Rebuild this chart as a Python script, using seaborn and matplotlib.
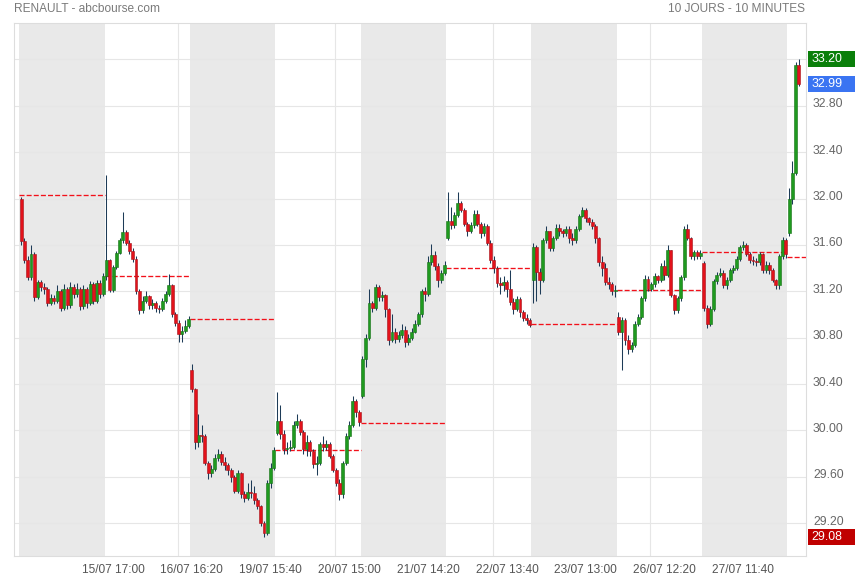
import numpy as np
import matplotlib
matplotlib.use("Agg")
import matplotlib.pyplot as plt
import matplotlib.transforms as mtransforms
from matplotlib.patches import Rectangle
import seaborn as sns

# ---------------- data ----------------
title_left = "RENAULT - abcbourse.com"
title_right = "10 JOURS - 10 MINUTES"
days = ["15/07", "16/07", "19/07", "20/07", "21/07", "22/07", "23/07", "26/07", "27/07", "28/07"]
prev_close = [32.03, 31.335, 30.96, 29.83, 30.065, 31.40, 30.915, 31.215, 31.535, 31.495]
day_open = [32.00, 31.335, 30.52, 29.98, 30.30, 31.66, 31.30, 30.98, 31.44, 31.70]

close_1507 = [31.63, 31.47, 31.32, 31.52, 31.15, 31.28, 31.24, 31.22, 31.10, 31.14, 31.12, 31.20, 31.06,
              31.22, 31.08, 31.24, 31.18, 31.22, 31.07, 31.22, 31.10, 31.26, 31.12, 31.27, 31.18, 31.33]
high_1507 = [32.01, 31.66, 31.50, 31.60, 31.54, 31.30, 31.30, 31.27, 31.24, 31.18, 31.17, 31.25, 31.22,
             31.26, 31.24, 31.28, 31.26, 31.27, 31.24, 31.25, 31.24, 31.29, 31.28, 31.30, 31.30, 31.36]
low_1507 = [31.60, 31.44, 31.30, 31.30, 31.12, 31.13, 31.20, 31.18, 31.07, 31.08, 31.09, 31.10, 31.03,
            31.04, 31.05, 31.06, 31.14, 31.15, 31.04, 31.05, 31.06, 31.08, 31.09, 31.10, 31.14, 31.16]

close_1607 = [31.47, 31.21, 31.41, 31.53, 31.64, 31.71, 31.62, 31.55, 31.48, 31.20, 31.04, 31.12, 31.16,
              31.08, 31.10, 31.06, 31.05, 31.12, 31.18, 31.25, 31.00, 30.93, 30.83, 30.86, 30.90, 30.96]
high_1607 = [32.20, 31.48, 31.43, 31.55, 31.66, 31.88, 31.73, 31.64, 31.57, 31.50, 31.22, 31.16, 31.20,
             31.17, 31.13, 31.12, 31.08, 31.14, 31.20, 31.35, 31.26, 31.02, 30.95, 30.90, 30.95, 30.99]
low_1607 = [31.30, 31.19, 31.19, 31.39, 31.52, 31.62, 31.60, 31.52, 31.45, 31.18, 31.00, 31.01, 31.10,
            31.05, 31.05, 31.02, 31.01, 31.03, 31.10, 31.16, 30.98, 30.90, 30.76, 30.76, 30.84, 30.88]

close_1907 = [30.36, 29.90, 29.96, 29.95, 29.72, 29.63, 29.67, 29.76, 29.80, 29.73, 29.70, 29.66, 29.60,
              29.48, 29.63, 29.45, 29.42, 29.47, 29.46, 29.40, 29.35, 29.20, 29.12, 29.55, 29.68, 29.83]
high_1907 = [30.57, 30.37, 30.14, 30.05, 29.97, 29.74, 29.70, 29.80, 29.84, 29.82, 29.77, 29.72, 29.68,
             29.62, 29.66, 29.64, 29.48, 29.55, 29.57, 29.52, 29.42, 29.36, 29.22, 29.57, 29.72, 29.86]
low_1907 = [30.33, 29.84, 29.86, 29.90, 29.70, 29.58, 29.60, 29.65, 29.74, 29.70, 29.66, 29.62, 29.56,
            29.46, 29.46, 29.42, 29.38, 29.40, 29.42, 29.37, 29.32, 29.18, 29.08, 29.10, 29.50, 29.66]

close_2007 = [30.08, 29.97, 29.84, 29.85, 29.86, 30.05, 30.08, 29.99, 29.84, 29.90, 29.82, 29.71, 29.72,
              29.88, 29.86, 29.88, 29.78, 29.66, 29.55, 29.45, 29.72, 29.95, 30.05, 30.25, 30.16, 30.07]
high_2007 = [30.33, 30.22, 30.00, 29.90, 29.92, 30.08, 30.14, 30.10, 30.00, 29.96, 29.92, 29.84, 29.78,
             29.90, 29.95, 29.92, 29.90, 29.80, 29.68, 29.58, 29.74, 29.98, 30.08, 30.30, 30.27, 30.18]
low_2007 = [29.96, 29.93, 29.80, 29.80, 29.82, 29.84, 30.02, 29.96, 29.80, 29.78, 29.78, 29.68, 29.62,
            29.70, 29.82, 29.83, 29.76, 29.64, 29.52, 29.40, 29.42, 29.70, 29.93, 30.03, 30.12, 30.04]

close_2107 = [30.62, 30.80, 31.10, 31.06, 31.24, 31.15, 31.17, 31.05, 30.78, 30.85, 30.79, 30.82, 30.87,
              30.76, 30.80, 30.85, 30.92, 31.00, 31.20, 31.18, 31.45, 31.51, 31.42, 31.30, 31.36, 31.43]
high_2107 = [30.64, 30.83, 31.22, 31.12, 31.26, 31.25, 31.20, 31.18, 31.06, 31.00, 30.88, 30.86, 30.92,
             30.90, 30.83, 30.88, 30.95, 31.02, 31.22, 31.24, 31.50, 31.61, 31.55, 31.44, 31.38, 31.46]
low_2107 = [30.28, 30.55, 30.78, 31.02, 31.04, 31.12, 31.12, 30.98, 30.74, 30.76, 30.75, 30.76, 30.80,
            30.72, 30.74, 30.78, 30.84, 30.90, 30.98, 31.12, 31.16, 31.43, 31.38, 31.24, 31.27, 31.34]

close_2207 = [31.81, 31.77, 31.86, 31.96, 31.90, 31.78, 31.72, 31.77, 31.87, 31.78, 31.70, 31.76, 31.62,
              31.47, 31.40, 31.27, 31.25, 31.28, 31.22, 31.11, 31.05, 31.13, 31.02, 30.97, 30.95, 30.91]
high_2207 = [32.06, 31.93, 31.88, 32.06, 31.98, 31.92, 31.80, 31.80, 31.90, 31.90, 31.80, 31.79, 31.78,
             31.64, 31.50, 31.42, 31.32, 31.33, 31.30, 31.38, 31.14, 31.16, 31.15, 31.04, 31.00, 30.97]
low_2207 = [31.64, 31.74, 31.75, 31.84, 31.88, 31.76, 31.68, 31.70, 31.75, 31.76, 31.66, 31.68, 31.60,
            31.44, 31.36, 31.24, 31.18, 31.20, 31.15, 31.08, 31.00, 31.03, 30.98, 30.94, 30.92, 30.89]

close_2307 = [31.58, 31.37, 31.30, 31.64, 31.72, 31.57, 31.66, 31.75, 31.72, 31.70, 31.74, 31.66, 31.64,
              31.74, 31.85, 31.90, 31.83, 31.80, 31.76, 31.66, 31.45, 31.40, 31.28, 31.26, 31.20, 31.21]
high_2307 = [31.62, 31.60, 31.40, 31.66, 31.76, 31.72, 31.68, 31.78, 31.78, 31.74, 31.76, 31.76, 31.70,
             31.76, 31.87, 31.93, 31.92, 31.84, 31.82, 31.78, 31.67, 31.50, 31.44, 31.32, 31.28, 31.25]
low_2307 = [31.10, 31.12, 31.18, 31.28, 31.62, 31.55, 31.55, 31.64, 31.68, 31.67, 31.68, 31.62, 31.60,
            31.62, 31.72, 31.84, 31.80, 31.77, 31.74, 31.62, 31.42, 31.33, 31.25, 31.22, 31.17, 31.15]

close_2607 = [30.85, 30.95, 30.78, 30.70, 30.74, 30.92, 30.98, 31.14, 31.31, 31.22, 31.26, 31.33, 31.30,
              31.42, 31.34, 31.56, 31.17, 31.04, 31.14, 31.32, 31.74, 31.66, 31.50, 31.54, 31.50, 31.53]
high_2607 = [31.02, 30.98, 30.97, 30.82, 30.76, 30.94, 31.00, 31.16, 31.34, 31.33, 31.28, 31.36, 31.34,
             31.44, 31.47, 31.60, 31.56, 31.18, 31.16, 31.34, 31.76, 31.78, 31.67, 31.56, 31.56, 31.56]
low_2607 = [30.82, 30.52, 30.74, 30.66, 30.68, 30.72, 30.90, 30.96, 31.12, 31.20, 31.20, 31.24, 31.27,
            31.28, 31.30, 31.32, 31.15, 31.00, 31.01, 31.12, 31.30, 31.64, 31.48, 31.47, 31.48, 31.48]

close_2707 = [31.06, 30.92, 31.05, 31.29, 31.34, 31.36, 31.25, 31.30, 31.38, 31.40, 31.48, 31.58, 31.60,
              31.52, 31.47, 31.46, 31.45, 31.52, 31.38, 31.43, 31.38, 31.30, 31.25, 31.50, 31.64, 31.52]
high_2707 = [31.46, 31.08, 31.07, 31.31, 31.37, 31.40, 31.38, 31.32, 31.40, 31.43, 31.50, 31.60, 31.63,
             31.62, 31.54, 31.50, 31.49, 31.54, 31.53, 31.46, 31.45, 31.40, 31.31, 31.52, 31.67, 31.66]
low_2707 = [31.03, 30.88, 30.90, 31.03, 31.26, 31.32, 31.23, 31.22, 31.28, 31.36, 31.38, 31.46, 31.56,
            31.50, 31.44, 31.43, 31.42, 31.43, 31.36, 31.36, 31.35, 31.28, 31.22, 31.22, 31.48, 31.49]

close_2807 = [32.00, 32.22, 33.15, 32.99]
high_2807 = [32.09, 32.32, 33.18, 33.20]
low_2807 = [31.68, 31.95, 32.20, 32.97]

closes = [close_1507, close_1607, close_1907, close_2007, close_2107,
          close_2207, close_2307, close_2607, close_2707, close_2807]
highs = [high_1507, high_1607, high_1907, high_2007, high_2107,
         high_2207, high_2307, high_2607, high_2707, high_2807]
lows = [low_1507, low_1607, low_1907, low_2007, low_2107,
        low_2207, low_2307, low_2607, low_2707, low_2807]

tick_labels = ["15/07 17:00", "16/07 16:20", "19/07 15:40", "20/07 15:00", "21/07 14:20",
               "22/07 13:40", "23/07 13:00", "26/07 12:20", "27/07 11:40"]
y_ticks = [29.20, 29.60, 30.00, 30.40, 30.80, 31.20, 31.60, 32.00, 32.40, 32.80]
y_grid = y_ticks + [33.20]

# ---------------- build candle table ----------------
BARS_PER_DAY = 52          # 10-minute slots per session
STEP = 2                   # one candle drawn per 20 minutes
xs, o_all, c_all, h_all, l_all = [], [], [], [], []
for d in range(len(days)):
    prev = day_open[d]
    for j, c in enumerate(closes[d]):
        xs.append(BARS_PER_DAY * d + STEP * j + 0.5)
        o_all.append(prev)
        c_all.append(c)
        h_all.append(max(highs[d][j], prev, c))
        l_all.append(min(lows[d][j], prev, c))
        prev = c
xs = np.array(xs); o_all = np.array(o_all); c_all = np.array(c_all)
h_all = np.array(h_all); l_all = np.array(l_all)
up = c_all >= o_all

# ---------------- figure ----------------
sns.set_theme(style="white")
plt.rcParams['font.family'] = ['Liberation Sans', 'DejaVu Sans']

W, H = 855, 580
fig = plt.figure(figsize=(W / 100, H / 100), dpi=100)
ax_l, ax_r, ax_t, ax_b = 14, 806, 23, 556
ax = fig.add_axes([ax_l / W, 1 - ax_b / H, (ax_r - ax_l) / W, (ax_b - ax_t) / H])

ax.set_xlim(-3.85, 478.8)
ax.set_ylim(28.918, 33.513)

# alternating day bands
for d in range(0, len(days), 2):
    ax.axvspan(BARS_PER_DAY * d - 0.5, BARS_PER_DAY * (d + 1) - 0.5,
               color="#e9e9e9", lw=0, zorder=0)

# grid
for v in y_grid:
    ax.axhline(v, color="#e6e6e6", lw=0.8, zorder=0.5)
for k, t in enumerate(range(48, 48 * 10, 48)):
    if k % 2 == 1:
        ax.axvline(t, color="#e6e6e6", lw=0.8, zorder=0.5)

# previous close reference lines
for d in range(len(days)):
    ax.hlines(prev_close[d], BARS_PER_DAY * d - 0.5, BARS_PER_DAY * (d + 1) - 0.5,
              colors="#f2101a", linestyles=(0, (3.8, 1.6)), lw=0.95, zorder=2)

# candles
ax.vlines(xs, l_all, h_all, colors="#1d3b57", lw=0.75, zorder=3)
body_h = np.maximum(np.abs(c_all - o_all), 0.006)
body_b = np.minimum(o_all, c_all)
ax.bar(xs[up], body_h[up], bottom=body_b[up], width=1.8,
       color="#1f9a1f", edgecolor="#157015", linewidth=0.4, zorder=4)
ax.bar(xs[~up], body_h[~up], bottom=body_b[~up], width=1.8,
       color="#e3121b", edgecolor="#a5121a", linewidth=0.4, zorder=4)

# spines
for s in ax.spines.values():
    s.set_color("#dddddd")
    s.set_linewidth(0.8)

# x ticks
ax.set_xticks(list(range(48, 48 * 10, 48)), tick_labels)
ax.tick_params(axis="x", length=0, pad=6, labelsize=8.6, labelcolor="#555555")
off_x = mtransforms.ScaledTranslation(0.14, 0, fig.dpi_scale_trans)
for lab in ax.get_xticklabels():
    lab.set_transform(lab.get_transform() + off_x)

# y ticks on the right
ax.yaxis.tick_right()
ax.set_yticks(y_ticks, [f"{v:.2f}" for v in y_ticks])
ax.tick_params(axis="y", length=0, pad=5, labelsize=8.7, labelcolor="#666666")
off_y = mtransforms.ScaledTranslation(0, 0.03, fig.dpi_scale_trans)
for lab in ax.get_yticklabels():
    lab.set_transform(lab.get_transform() + off_y)
ax.grid(False)

# value tags
trans = mtransforms.blended_transform_factory(fig.transFigure, ax.transData)
px_per_unit = (ax_b - ax_t) / (33.513 - 28.918)
tag_h = 16 / px_per_unit
tags = [(h_all.max(), "#0a7f0a"), (c_all[-1], "#3a74f2"), (l_all.min(), "#c00000")]
for val, col in tags:
    r = Rectangle((808 / W, val - tag_h / 2), 47 / W, tag_h, transform=trans,
                  facecolor=col, edgecolor="none", clip_on=False, zorder=10)
    ax.add_patch(r)
    ax.text(811.5 / W, val, f"{val:.2f}", transform=trans, color="white",
            ha="left", va="center", fontsize=8.9, zorder=11, clip_on=False)

# titles
fig.text(14 / W, 1 - 9 / H, title_left, ha="left", va="center", fontsize=8.6, color="#7a7a7a")
fig.text(805 / W, 1 - 9 / H, title_right, ha="right", va="center", fontsize=8.6, color="#7a7a7a")

fig.savefig("out.png", dpi=100)
